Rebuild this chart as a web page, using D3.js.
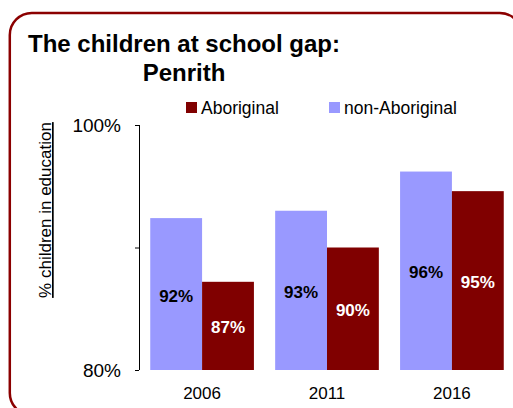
<!DOCTYPE html>
<html>
<head>
<meta charset="utf-8">
<script src="https://cdn.jsdelivr.net/npm/d3@7/dist/d3.min.js"></script>
<style>
  html, body { margin: 0; padding: 0; background: #fff; }
  svg { display: block; font-family: "Liberation Sans", Arial, sans-serif; }
</style>
</head>
<body>
<svg id="chart" width="513" height="408"></svg>
<script>
const years = ["2006", "2011", "2016"];
const seriesNames = ["non-Aboriginal", "Aboriginal"];
const nonAboriginal = [92.4, 93.0, 96.2];
const aboriginal = [87.2, 90.0, 94.6];
const nonAboriginalLabels = ["92%", "93%", "96%"];
const aboriginalLabels = ["87%", "90%", "95%"];
const yTicks = [80, 90, 100];
const yTickLabels = {80: "80%", 90: "", 100: "100%"};
const titleLines = ["The children at school gap:", "Penrith"];
const yTitle = "% children in education";

const colors = {"non-Aboriginal": "#9999FF", "Aboriginal": "#800000"};
const labelColors = {"non-Aboriginal": "#000000", "Aboriginal": "#FFFFFF"};

const svg = d3.select("#chart");

// frame
svg.append("rect")
  .attr("x", 9.8).attr("y", 13)
  .attr("width", 512).attr("height", 402)
  .attr("rx", 22).attr("ry", 22)
  .attr("fill", "none")
  .attr("stroke", "#8B0000")
  .attr("stroke-width", 2.5);

// title
svg.append("text")
  .attr("x", 184).attr("y", 52)
  .attr("text-anchor", "middle")
  .attr("font-size", 24).attr("font-weight", "bold")
  .text(titleLines[0]);
svg.append("text")
  .attr("x", 184).attr("y", 81)
  .attr("text-anchor", "middle")
  .attr("font-size", 24).attr("font-weight", "bold")
  .text(titleLines[1]);

// scales
const x0 = d3.scaleBand().domain(years).range([139, 515])
  .paddingInner(0.17).paddingOuter(0.09);
const x1 = d3.scaleBand().domain(seriesNames).range([0, x0.bandwidth()]);
const y = d3.scaleLinear().domain([80, 100]).range([370, 125]);

// y axis
const yAxis = d3.axisLeft(y).tickValues(yTicks)
  .tickSize(4).tickPadding(14)
  .tickFormat(d => yTickLabels[d]);
const gy = svg.append("g").attr("transform", "translate(139,0)").call(yAxis);
gy.select(".domain").attr("stroke", "#000").attr("d", "M0.5,125V370");
gy.selectAll(".tick line").attr("stroke", "#000");
gy.selectAll(".tick text").attr("font-size", 19).attr("fill", "#000")
  .attr("font-family", "'Liberation Sans', Arial, sans-serif");

// y title
svg.append("text")
  .attr("transform", "translate(51,210) rotate(-90)")
  .attr("text-anchor", "middle")
  .attr("font-size", 17)
  .attr("text-decoration", "underline")
  .text(yTitle);

// bars
const data = years.map((yr, i) => ({
  year: yr,
  values: [
    {name: "non-Aboriginal", v: nonAboriginal[i], label: nonAboriginalLabels[i]},
    {name: "Aboriginal", v: aboriginal[i], label: aboriginalLabels[i]}
  ]
}));

const groups = svg.append("g").selectAll("g").data(data).join("g")
  .attr("transform", d => `translate(${x0(d.year)},0)`);

groups.selectAll("rect").data(d => d.values).join("rect")
  .attr("x", d => x1(d.name))
  .attr("y", d => y(d.v))
  .attr("width", x1.bandwidth())
  .attr("height", d => y(80) - y(d.v))
  .attr("fill", d => colors[d.name]);

groups.selectAll("text").data(d => d.values).join("text")
  .attr("x", d => x1(d.name) + x1.bandwidth() / 2)
  .attr("y", d => (y(d.v) + y(80)) / 2 + 2)
  .attr("text-anchor", "middle")
  .attr("dominant-baseline", "central")
  .attr("font-size", 17).attr("font-weight", "bold")
  .attr("fill", d => labelColors[d.name])
  .text(d => d.label);

// x labels
svg.append("g").selectAll("text").data(years).join("text")
  .attr("x", d => x0(d) + x0.bandwidth() / 2)
  .attr("y", 399)
  .attr("text-anchor", "middle")
  .attr("font-size", 17)
  .text(d => d);

// legend
const legendItems = [
  {name: "Aboriginal", x: 186},
  {name: "non-Aboriginal", x: 329}
];
const lg = svg.append("g").selectAll("g").data(legendItems).join("g");
lg.append("rect")
  .attr("x", d => d.x).attr("y", 102)
  .attr("width", 11).attr("height", 11)
  .attr("fill", d => colors[d.name]);
lg.append("text")
  .attr("x", d => d.x + 15).attr("y", 114)
  .attr("font-size", 17.5)
  .text(d => d.name);
</script>
</body>
</html>
